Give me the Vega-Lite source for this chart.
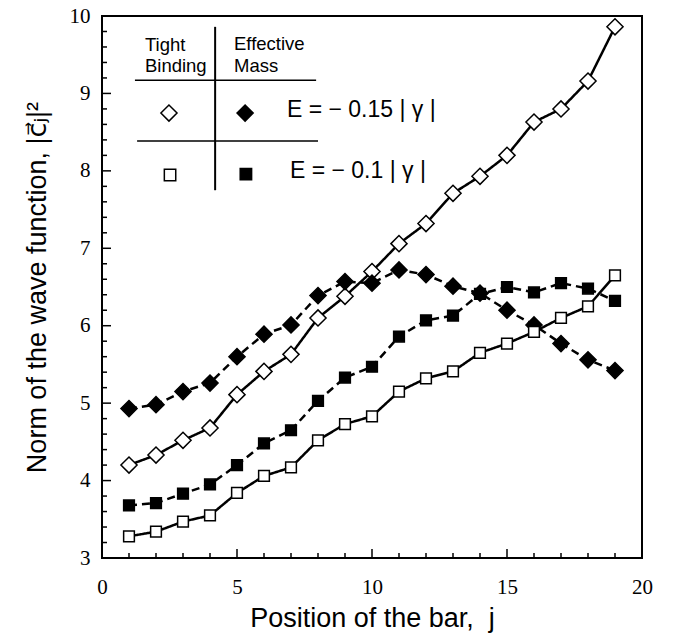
{
  "$schema": "https://vega.github.io/schema/vega-lite/v6.json",
  "autosize": {"type": "none"},
  "width": 540,
  "height": 542,
  "padding": {"left": 102, "top": 16, "right": 31, "bottom": 75},
  "background": "white",
  "config": {
    "view": {"stroke": "black", "strokeWidth": 2},
    "axis": {
      "domain": false, "ticks": false,
      "grid": false, "labelOverlap": false, "labelFlush": false,
      "labelFont": "Liberation Serif", "labelFontSize": 21, "labelColor": "black",
      "titleFont": "Liberation Sans, DejaVu Sans", "titleFontSize": 27, "titleFontWeight": "normal", "titleColor": "black"
    }
  },
  "datasets": {
    "yMajor": [{"t": 4}, {"t": 5}, {"t": 6}, {"t": 7}, {"t": 8}, {"t": 9}],
    "yMinor": [{"t": 3.2}, {"t": 3.4}, {"t": 3.6}, {"t": 3.8}, {"t": 4.2}, {"t": 4.4}, {"t": 4.6}, {"t": 4.8}, {"t": 5.2}, {"t": 5.4}, {"t": 5.6}, {"t": 5.8}, {"t": 6.2}, {"t": 6.4}, {"t": 6.6}, {"t": 6.8}, {"t": 7.2}, {"t": 7.4}, {"t": 7.6}, {"t": 7.8}, {"t": 8.2}, {"t": 8.4}, {"t": 8.6}, {"t": 8.8}, {"t": 9.2}, {"t": 9.4}, {"t": 9.6}, {"t": 9.8}],
    "xMajor": [{"t": 5}, {"t": 10}, {"t": 15}],
    "xMinor": [{"t": 1}, {"t": 2}, {"t": 3}, {"t": 4}, {"t": 6}, {"t": 7}, {"t": 8}, {"t": 9}, {"t": 11}, {"t": 12}, {"t": 13}, {"t": 14}, {"t": 16}, {"t": 17}, {"t": 18}, {"t": 19}],
    "curves": [
      {"j": 1, "v": 4.20, "series": "TB015"}, {"j": 2, "v": 4.33, "series": "TB015"}, {"j": 3, "v": 4.52, "series": "TB015"}, {"j": 4, "v": 4.68, "series": "TB015"}, {"j": 5, "v": 5.11, "series": "TB015"},
      {"j": 6, "v": 5.41, "series": "TB015"}, {"j": 7, "v": 5.63, "series": "TB015"}, {"j": 8, "v": 6.10, "series": "TB015"}, {"j": 9, "v": 6.38, "series": "TB015"}, {"j": 10, "v": 6.70, "series": "TB015"},
      {"j": 11, "v": 7.06, "series": "TB015"}, {"j": 12, "v": 7.32, "series": "TB015"}, {"j": 13, "v": 7.71, "series": "TB015"}, {"j": 14, "v": 7.93, "series": "TB015"}, {"j": 15, "v": 8.20, "series": "TB015"},
      {"j": 16, "v": 8.63, "series": "TB015"}, {"j": 17, "v": 8.80, "series": "TB015"}, {"j": 18, "v": 9.16, "series": "TB015"}, {"j": 19, "v": 9.86, "series": "TB015"},
      {"j": 1, "v": 4.93, "series": "EM015"}, {"j": 2, "v": 4.98, "series": "EM015"}, {"j": 3, "v": 5.15, "series": "EM015"}, {"j": 4, "v": 5.26, "series": "EM015"}, {"j": 5, "v": 5.60, "series": "EM015"},
      {"j": 6, "v": 5.89, "series": "EM015"}, {"j": 7, "v": 6.01, "series": "EM015"}, {"j": 8, "v": 6.39, "series": "EM015"}, {"j": 9, "v": 6.57, "series": "EM015"}, {"j": 10, "v": 6.55, "series": "EM015"},
      {"j": 11, "v": 6.72, "series": "EM015"}, {"j": 12, "v": 6.66, "series": "EM015"}, {"j": 13, "v": 6.51, "series": "EM015"}, {"j": 14, "v": 6.42, "series": "EM015"}, {"j": 15, "v": 6.20, "series": "EM015"},
      {"j": 16, "v": 6.01, "series": "EM015"}, {"j": 17, "v": 5.77, "series": "EM015"}, {"j": 18, "v": 5.56, "series": "EM015"}, {"j": 19, "v": 5.42, "series": "EM015"},
      {"j": 1, "v": 3.28, "series": "TB01"}, {"j": 2, "v": 3.34, "series": "TB01"}, {"j": 3, "v": 3.47, "series": "TB01"}, {"j": 4, "v": 3.55, "series": "TB01"}, {"j": 5, "v": 3.84, "series": "TB01"},
      {"j": 6, "v": 4.06, "series": "TB01"}, {"j": 7, "v": 4.17, "series": "TB01"}, {"j": 8, "v": 4.52, "series": "TB01"}, {"j": 9, "v": 4.73, "series": "TB01"}, {"j": 10, "v": 4.83, "series": "TB01"},
      {"j": 11, "v": 5.15, "series": "TB01"}, {"j": 12, "v": 5.32, "series": "TB01"}, {"j": 13, "v": 5.41, "series": "TB01"}, {"j": 14, "v": 5.65, "series": "TB01"}, {"j": 15, "v": 5.77, "series": "TB01"},
      {"j": 16, "v": 5.92, "series": "TB01"}, {"j": 17, "v": 6.10, "series": "TB01"}, {"j": 18, "v": 6.25, "series": "TB01"}, {"j": 19, "v": 6.65, "series": "TB01"},
      {"j": 1, "v": 3.68, "series": "EM01"}, {"j": 2, "v": 3.71, "series": "EM01"}, {"j": 3, "v": 3.83, "series": "EM01"}, {"j": 4, "v": 3.95, "series": "EM01"}, {"j": 5, "v": 4.20, "series": "EM01"},
      {"j": 6, "v": 4.48, "series": "EM01"}, {"j": 7, "v": 4.65, "series": "EM01"}, {"j": 8, "v": 5.03, "series": "EM01"}, {"j": 9, "v": 5.33, "series": "EM01"}, {"j": 10, "v": 5.47, "series": "EM01"},
      {"j": 11, "v": 5.86, "series": "EM01"}, {"j": 12, "v": 6.07, "series": "EM01"}, {"j": 13, "v": 6.13, "series": "EM01"}, {"j": 14, "v": 6.41, "series": "EM01"}, {"j": 15, "v": 6.50, "series": "EM01"},
      {"j": 16, "v": 6.43, "series": "EM01"}, {"j": 17, "v": 6.55, "series": "EM01"}, {"j": 18, "v": 6.48, "series": "EM01"}, {"j": 19, "v": 6.32, "series": "EM01"}
    ]
  },
  "layer": [
    {
      "data": {"name": "curves"},
      "mark": {"type": "line", "color": "black", "strokeWidth": 2.5},
      "encoding": {
        "x": {
          "field": "j", "type": "quantitative",
          "scale": {"domain": [0, 20], "nice": false},
          "axis": {
            "orient": "bottom",
            "title": "Position of the bar,\u00a0\u00a0j",
            "values": [0, 5, 10, 15, 20],
            "format": "d",
            "labelPadding": 18,
            "titlePadding": 8
          }
        },
        "y": {
          "field": "v", "type": "quantitative",
          "scale": {"domain": [3, 10], "nice": false, "zero": false},
          "axis": {
            "orient": "left",
            "title": "Norm of the wave function, |c\u20d7\u2c7c|\u00b2",
            "values": [3, 4, 5, 6, 7, 8, 9, 10],
            "format": "d",
            "labelPadding": 12,
            "titlePadding": 18
          }
        },
        "detail": {"field": "series"},
        "strokeDash": {
          "field": "series", "type": "nominal", "legend": null,
          "scale": {"domain": ["TB015", "EM015", "TB01", "EM01"], "range": [[1, 0], [8, 5], [1, 0], [8, 5]]}
        }
      }
    },
    {
      "data": {"name": "yMajor"},
      "mark": {"type": "rule", "strokeWidth": 1.5, "color": "black"},
      "encoding": {"x": {"datum": 0}, "x2": {"datum": 0.333}, "y": {"field": "t", "type": "quantitative"}}
    },
    {
      "data": {"name": "yMinor"},
      "mark": {"type": "rule", "strokeWidth": 1.5, "color": "black"},
      "encoding": {"x": {"datum": 0}, "x2": {"datum": 0.185}, "y": {"field": "t", "type": "quantitative"}}
    },
    {
      "data": {"name": "xMajor"},
      "mark": {"type": "rule", "strokeWidth": 1.5, "color": "black"},
      "encoding": {"x": {"field": "t", "type": "quantitative"}, "y": {"datum": 3}, "y2": {"datum": 3.116}}
    },
    {
      "data": {"name": "xMinor"},
      "mark": {"type": "rule", "strokeWidth": 1.5, "color": "black"},
      "encoding": {"x": {"field": "t", "type": "quantitative"}, "y": {"datum": 3}, "y2": {"datum": 3.065}}
    },
    {
      "data": {"name": "curves"},
      "transform": [{"filter": {"field": "series", "oneOf": ["TB015", "EM015"]}}],
      "mark": {"type": "point", "shape": "diamond", "filled": true, "stroke": "black", "strokeWidth": 1.5, "size": 260, "opacity": 1},
      "encoding": {
        "x": {"field": "j", "type": "quantitative"},
        "y": {"field": "v", "type": "quantitative"},
        "fill": {"field": "series", "type": "nominal", "legend": null,
          "scale": {"domain": ["TB015", "EM015", "TB01", "EM01"], "range": ["white", "black", "white", "black"]}}
      }
    },
    {
      "data": {"name": "curves"},
      "transform": [{"filter": {"field": "series", "oneOf": ["TB01", "EM01"]}}],
      "mark": {"type": "point", "shape": "square", "filled": true, "stroke": "black", "strokeWidth": 1.5, "size": 115, "opacity": 1},
      "encoding": {
        "x": {"field": "j", "type": "quantitative"},
        "y": {"field": "v", "type": "quantitative"},
        "fill": {"field": "series", "type": "nominal", "legend": null}
      }
    },
    {
      "data": {"values": [{}]},
      "mark": {"type": "rule", "color": "black", "strokeWidth": 2},
      "encoding": {"x": {"datum": 4.19}, "y": {"datum": 9.86}, "y2": {"datum": 7.75}}
    },
    {
      "data": {"values": [{}]},
      "mark": {"type": "rule", "color": "black", "strokeWidth": 1.5},
      "encoding": {"x": {"datum": 1.22}, "x2": {"datum": 7.93}, "y": {"datum": 9.17}}
    },
    {
      "data": {"values": [{}]},
      "mark": {"type": "rule", "color": "black", "strokeWidth": 1.5},
      "encoding": {"x": {"datum": 1.30}, "x2": {"datum": 8.0}, "y": {"datum": 8.385}}
    },
    {
      "data": {"values": [{}]},
      "mark": {"type": "point", "shape": "diamond", "filled": true, "fill": "white", "stroke": "black", "strokeWidth": 1.5, "size": 260, "opacity": 1},
      "encoding": {"x": {"datum": 2.48}, "y": {"datum": 8.747}}
    },
    {
      "data": {"values": [{}]},
      "mark": {"type": "point", "shape": "diamond", "filled": true, "fill": "black", "stroke": "black", "strokeWidth": 1.5, "size": 260, "opacity": 1},
      "encoding": {"x": {"datum": 5.30}, "y": {"datum": 8.747}}
    },
    {
      "data": {"values": [{}]},
      "mark": {"type": "point", "shape": "square", "filled": true, "fill": "white", "stroke": "black", "strokeWidth": 1.5, "size": 130, "opacity": 1},
      "encoding": {"x": {"datum": 2.52}, "y": {"datum": 7.946}}
    },
    {
      "data": {"values": [{}]},
      "mark": {"type": "point", "shape": "square", "filled": true, "fill": "black", "stroke": "black", "strokeWidth": 1.5, "size": 130, "opacity": 1},
      "encoding": {"x": {"datum": 5.33}, "y": {"datum": 7.958}}
    },
    {
      "data": {"values": [{}]},
      "mark": {"type": "text", "text": ["Tight", "Binding"], "font": "Liberation Sans", "fontSize": 18.5, "lineHeight": 21, "align": "left", "baseline": "alphabetic", "fill": "black"},
      "encoding": {"x": {"datum": 1.59}, "y": {"datum": 9.548}}
    },
    {
      "data": {"values": [{}]},
      "mark": {"type": "text", "text": ["Effective", "Mass"], "font": "Liberation Sans", "fontSize": 18.5, "lineHeight": 22, "align": "left", "baseline": "alphabetic", "fill": "black"},
      "encoding": {"x": {"datum": 4.89}, "y": {"datum": 9.56}}
    },
    {
      "data": {"values": [{}]},
      "mark": {"type": "text", "text": "E = \u2212 0.15 | \u03b3 |", "font": "Liberation Sans", "fontSize": 23, "align": "left", "baseline": "alphabetic", "fill": "black"},
      "encoding": {"x": {"datum": 6.85}, "y": {"datum": 8.695}}
    },
    {
      "data": {"values": [{}]},
      "mark": {"type": "text", "text": "E = \u2212 0.1 | \u03b3 |", "font": "Liberation Sans", "fontSize": 23, "align": "left", "baseline": "alphabetic", "fill": "black"},
      "encoding": {"x": {"datum": 6.96}, "y": {"datum": 7.908}}
    }
  ]
}
